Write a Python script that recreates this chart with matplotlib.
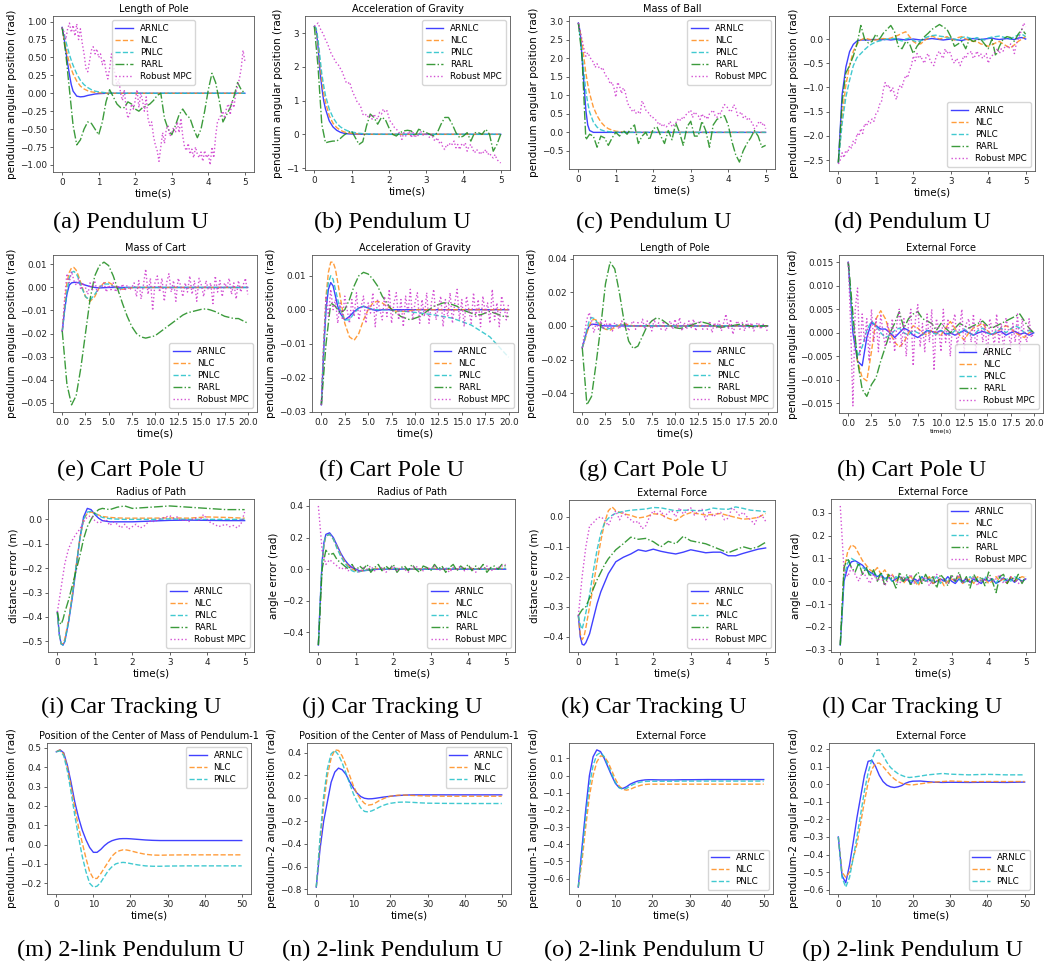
import numpy as np
import matplotlib
matplotlib.use('Agg')
import matplotlib.pyplot as plt
from matplotlib.ticker import MultipleLocator

# ======================= DATA =======================
# ---- (a) Pendulum: Length of Pole ----
a_ts = [0, 0.05, 0.1, 0.15, 0.2, 0.25, 0.3, 0.4, 0.5, 0.6, 0.7, 0.8, 0.9, 1.0, 1.2, 1.4, 1.6, 2.0, 3.0, 4.0, 5.0]
a_arnlc = [0.92, 0.78, 0.6, 0.42, 0.26, 0.12, 0.03, -0.04, -0.05, -0.045, -0.03, -0.02, -0.01, -0.005, 0, 0, 0, 0, 0, 0, 0]
a_nlc = [0.92, 0.78, 0.64, 0.52, 0.42, 0.34, 0.27, 0.17, 0.1, 0.06, 0.035, 0.02, 0.012, 0.007, 0.002, 0, 0, 0, 0, 0, 0]
a_pnlc = [0.92, 0.83, 0.73, 0.63, 0.54, 0.46, 0.39, 0.27, 0.18, 0.12, 0.08, 0.05, 0.03, 0.02, 0.007, 0.002, 0, 0, 0, 0, 0]
a_rarl = [0.92, 0.55, 0.05, -0.45, -0.72, -0.65, -0.5, -0.4, -0.42, -0.5,
          -0.58, -0.4, -0.12, 0.05, -0.05, -0.15, -0.2, -0.2, -0.12, -0.15,
          -0.22, -0.25, -0.2, -0.18, -0.15, -0.1, -0.03, 0.0, -0.35, -0.5,
          -0.58, -0.45, -0.3, -0.22, -0.3, -0.35, -0.5, -0.62, -0.5, -0.25,
          0.05, 0.28, 0.15, -0.1, -0.4, -0.3, -0.2, -0.05, 0.15, 0.05,
          0.0]
a_mpc = [0.92, 0.85, 0.75, 0.9, 0.98, 0.85, 0.95, 0.8, 0.97, 0.75,
         0.9, 0.7, 0.55, 0.35, 0.3, 0.45, 0.6, 0.65, 0.55, 0.62,
         0.5, 0.55, 0.4, 0.48, 0.3, 0.2, 0.35, 0.55, 0.4, 0.25,
         0.1, 0.2, 0.0, -0.1, 0.05, -0.2, -0.35, -0.28, -0.15, -0.22,
         -0.1, 0.05, -0.2, 0.0, -0.1, -0.25, -0.05, -0.35, -0.45, -0.4,
         -0.6, -0.72, -0.8, -0.95, -0.75, -0.55, -0.7, -0.5, -0.45, -0.6,
         -0.55, -0.48, -0.55, -0.4, -0.55, -0.35, -0.6, -0.75, -0.8, -0.7,
         -0.85, -0.78, -0.9, -0.75, -0.85, -0.9, -0.82, -0.95, -0.8, -0.9,
         -0.85, -1.0, -0.75, -0.9, -0.6, -0.4, -0.35, -0.3, -0.25, -0.35,
         -0.2, -0.15, -0.3, -0.1, -0.2, 0.0, 0.1, 0.2, 0.35, 0.6,
         0.45]

# ---- (b) Pendulum: Acceleration of Gravity ----
b_ts = a_ts
b_arnlc = [3.2, 3.1, 2.6, 1.9, 1.4, 1.0, 0.75, 0.4, 0.22, 0.12, 0.06, 0.03, 0.015, 0.01, 0.003, 0, 0, 0, 0, 0, 0]
b_nlc = [3.2, 3.1, 2.7, 2.1, 1.6, 1.22, 0.95, 0.55, 0.33, 0.2, 0.12, 0.07, 0.045, 0.03, 0.01, 0.004, 0, 0, 0, 0, 0]
b_pnlc = [3.2, 3.15, 2.8, 2.3, 1.8, 1.45, 1.15, 0.75, 0.5, 0.33, 0.22, 0.15, 0.1, 0.07, 0.03, 0.012, 0.005, 0, 0, 0, 0]
b_rarl = [3.2, 2.0, 0.3, -0.25, -0.22, -0.2, -0.2, -0.12, -0.02, 0.05,
          0.1, -0.1, -0.3, -0.22, 0.25, 0.6, 0.5, 0.3, 0.5, 0.45,
          0.2, 0.0, -0.05, 0.05, 0.1, 0.12, 0.1, -0.05, 0.15, 0.1,
          0.05, 0.0, -0.05, 0.05, 0.3, 0.5, 0.5, 0.3, 0.05, -0.1,
          -0.05, 0.05, -0.2, 0.05, 0.05, 0.0, 0.15, 0.0, -0.5, -0.3,
          0.0]
b_mpc = [3.2, 3.25, 3.3, 3.15, 3.05, 2.95, 2.8, 2.7, 2.55, 2.4,
         2.3, 2.2, 2.1, 2.05, 1.95, 1.85, 1.7, 1.55, 1.5, 1.55,
         1.35, 1.2, 1.1, 0.95, 0.9, 0.8, 0.6, 0.55, 0.6, 0.5,
         0.55, 0.45, 0.6, 0.5, 0.45, 0.65, 0.6, 0.75, 0.65, 0.7,
         0.5, 0.35, 0.3, 0.2, 0.15, 0.1, 0.0, -0.15, 0.05, -0.05,
         0.0, 0.1, -0.1, 0.05, -0.1, 0.0, -0.05, 0.1, 0.0, -0.05,
         0.05, -0.05, -0.1, 0.0, -0.15, -0.2, -0.1, -0.25, -0.2, -0.4,
         -0.45, -0.3, -0.35, -0.25, -0.3, -0.2, -0.4, -0.3, -0.45, -0.3,
         -0.35, -0.25, -0.5, -0.35, -0.3, -0.45, -0.55, -0.45, -0.5, -0.6,
         -0.5, -0.55, -0.45, -0.6, -0.55, -0.65, -0.7, -0.6, -0.75, -0.8,
         -0.85]

# ---- (c) Pendulum: Mass of Ball ----
c_ts = a_ts
c_arnlc = [2.95, 2.7, 2.0, 1.3, 0.6, 0.2, 0.05, 0.0, 0, 0, 0, 0, 0, 0, 0, 0, 0, 0, 0, 0, 0]
c_nlc = [2.95, 2.7, 2.4, 2.0, 1.6, 1.3, 1.05, 0.68, 0.45, 0.28, 0.17, 0.1, 0.06, 0.03, 0.01, 0.003, 0, 0, 0, 0, 0]
c_pnlc = [2.95, 2.55, 2.1, 1.6, 1.1, 0.8, 0.55, 0.28, 0.14, 0.07, 0.035, 0.02, 0.01, 0.005, 0, 0, 0, 0, 0, 0, 0]
c_rarl = [2.95, 2.0, -0.2, -0.05, -0.1, -0.4, -0.1, -0.15, -0.35, -0.15,
          0.0, -0.1, 0.05, -0.05, 0.1, 0.2, -0.3, -0.1, 0.0, -0.2,
          0.1, 0.15, -0.1, -0.3, 0.05, -0.2, 0.25, 0.0, -0.35, 0.15,
          0.3, -0.1, -0.1, 0.3, 0.05, -0.4, 0.2, 0.35, 0.4, 0.45,
          0.2, -0.25, -0.6, -0.8, -0.5, -0.3, -0.15, 0.05, -0.1, -0.4,
          -0.35]
c_mpc = [2.95, 2.7, 2.5, 2.25, 2.05, 2.15, 2.05, 1.95, 1.9, 1.75,
         1.85, 1.75, 1.7, 1.75, 1.6, 1.5, 1.45, 1.3, 1.35, 1.2,
         0.95, 1.35, 1.25, 1.05, 1.2, 1.1, 0.85, 0.7, 0.65, 0.55,
         0.6, 0.5, 0.55, 0.5, 0.85, 0.75, 0.6, 0.55, 0.5, 0.4,
         0.4, 0.35, 0.3, 0.2, 0.25, 0.15, 0.2, 0.15, 0.2, 0.3,
         0.15, 0.2, 0.25, 0.35, 0.3, 0.4, 0.35, 0.45, 0.5, 0.55,
         0.6, 0.4, 0.55, 0.5, 0.45, 0.35, 0.5, 0.4, 0.45, 0.35,
         0.5, 0.55, 0.6, 0.45, 0.4, 0.55, 0.5, 0.65, 0.75, 0.7,
         0.65, 0.55, 0.6, 0.75, 0.65, 0.45, 0.5, 0.55, 0.4, 0.45,
         0.35, 0.4, 0.3, 0.25, 0.1, 0.15, 0.25, 0.3, 0.2, 0.25,
         0.1]

# ---- (d) Pendulum: External Force (0.1 s grid) ----
d_arnlc = [-2.55, -1.15, -0.58, -0.26, -0.11, -0.04, -0.02, -0.02, -0.02, -0.01,
           -0.01, -0.02, -0.01, -0.01, -0.02, -0.01, 0.0, -0.01, -0.02, -0.01,
           0.0, -0.01, -0.02, -0.01, 0.0, 0.01, 0.0, -0.01, -0.02, -0.01,
           0.0, -0.01, -0.02, -0.03, -0.01, 0.0, 0.01, 0.0, -0.01, 0.0,
           0.01, 0.02, 0.0, -0.01, 0.0, 0.01, 0.0, -0.01, 0.02, 0.03,
           0.0]
d_nlc = [-2.55, -1.6, -0.95, -0.55, -0.25, -0.1, -0.02, 0.02, 0.0, -0.02,
         -0.02, 0.0, 0.01, 0.0, 0.02, 0.05, 0.08, 0.12, 0.15, 0.05,
         -0.05, -0.1, -0.1, -0.03, 0.02, 0.06, 0.03, 0.0, 0.02, 0.05,
         0.0, -0.02, 0.03, 0.05, 0.0, -0.03, -0.05, -0.05, -0.1, -0.12,
         -0.15, -0.12, -0.08, -0.05, -0.1, -0.15, -0.18, -0.12, -0.05, 0.0,
         0.05]
d_pnlc = [-2.55, -1.75, -1.2, -0.85, -0.55, -0.38, -0.3, -0.22, -0.15, -0.1,
          -0.06, -0.04, -0.02, 0.0, 0.0, 0.01, -0.02, -0.04, 0.0, 0.02,
          -0.03, -0.06, -0.04, 0.02, 0.05, 0.07, 0.08, 0.06, 0.05, 0.02,
          0.02, 0.0, -0.02, 0.03, 0.05, 0.02, 0.0, 0.03, 0.0, -0.02,
          0.02, 0.04, 0.05, 0.06, 0.04, 0.02, 0.0, 0.05, 0.08, 0.1,
          0.05]
d_rarl = [-2.55, -1.3, -0.7, -0.55, -0.35, -0.1, 0.28, 0.0, -0.08, -0.05,
          0.1, 0.0, 0.12, 0.2, 0.28, 0.15, -0.15, -0.2, -0.05, -0.1,
          -0.3, -0.15, -0.05, 0.05, 0.12, 0.2, 0.25, 0.3, 0.25, 0.2,
          0.05, -0.15, -0.1, -0.05, -0.2, 0.0, -0.05, -0.02, 0.0, -0.1,
          -0.2, 0.0, -0.35, -0.15, 0.0, 0.05, 0.03, -0.05, 0.1, 0.2,
          0.1]
d_mpc = [-2.58, -2.5, -2.35, -2.45, -2.3, -2.35, -2.2, -2.25, -2.1, -2.15,
         -1.95, -2.0, -1.85, -1.95, -1.75, -1.8, -1.7, -1.75, -1.65, -1.7,
         -1.55, -1.5, -1.35, -1.3, -1.05, -0.9, -1.0, -0.95, -1.1, -1.0,
         -1.15, -1.25, -1.05, -0.95, -1.0, -0.85, -0.75, -0.8, -0.65, -0.55,
         -0.35, -0.45, -0.3, -0.4, -0.35, -0.45, -0.5, -0.35, -0.3, -0.45,
         -0.5, -0.55, -0.4, -0.3, -0.25, -0.35, -0.4, -0.2, -0.3, -0.25,
         -0.3, -0.45, -0.5, -0.4, -0.45, -0.55, -0.45, -0.35, -0.4, -0.3,
         -0.3, -0.25, -0.4, -0.35, -0.25, -0.35, -0.3, -0.4, -0.35, -0.3,
         -0.5, -0.4, -0.35, -0.3, -0.25, -0.2, -0.3, -0.2, -0.25, -0.15,
         -0.15, -0.2, -0.1, -0.15, -0.3, -0.1, 0.0, 0.1, 0.2, 0.33,
         0.25]

# ---- (e) Cart Pole: Mass of Cart ----
e_ts = [0, 0.25, 0.5, 0.75, 1.0, 1.25, 1.5, 1.75, 2.0, 2.5, 3.0, 3.5, 4.0, 4.5, 5.0, 5.5, 6.0, 6.5, 7.0, 8.0, 9.0, 10.0, 12.0, 14.0, 16.0, 18.0, 20.0]
e_arnlc = [-0.019, -0.01, -0.003, 0.001, 0.002, 0.0022, 0.0022, 0.002, 0.0018, 0.001,
           0.0004, 0.0, -0.0002, -0.0001, 0.0, 0.0, 0.0, 0, 0, 0, 0, 0, 0, 0, 0, 0, 0]
e_nlc = [-0.019, -0.008, 0.002, 0.0065, 0.0085, 0.0087, 0.0075, 0.005, 0.002, -0.004,
         -0.006, -0.004, 0.0, 0.002, 0.0022, 0.001, -0.0005, -0.0008, -0.0003, 0.0, 0, 0, 0, 0, 0, 0, 0]
e_pnlc = [-0.019, -0.01, -0.002, 0.004, 0.0065, 0.007, 0.006, 0.004, 0.001, -0.004,
          -0.0055, -0.003, 0.0, 0.0015, 0.0015, 0.0005, -0.0005, -0.0003, 0.0, 0, 0, 0, 0, 0, 0, 0, 0]
e_rarl = [-0.019, -0.042, -0.051, -0.047, -0.035, -0.02, -0.005, 0.005, 0.0095, 0.011,
          0.0095, 0.005, -0.001, -0.007, -0.0125, -0.017, -0.02, -0.0215, -0.022, -0.0215,
          -0.021, -0.0195, -0.018, -0.0165, -0.015, -0.0135, -0.012, -0.011, -0.0105, -0.01,
          -0.0095, -0.0093, -0.0098, -0.0105, -0.0115, -0.0125, -0.013, -0.0135, -0.0135, -0.0145,
          -0.0155]
e_mpc = [-0.019, -0.005, 0.006, 0.002, 0.007, 0.003, 0.001, 0.004, -0.001,
         0.002, 0.0, -0.003, 0.002, -0.001, 0.003, -0.002, 0.001, 0.0,
         0.002, -0.002, 0.001, -0.001, 0.002, -0.002, 0.001, -0.001, 0.0015,
         -0.0015, 0.001, -0.001, 0.0, 0.002, -0.004, 0.003, -0.005, 0.001,
         0.008, -0.003, 0.004, -0.01, 0.002, 0.005, -0.002, 0.004, -0.006,
         0.002, 0.006, -0.002, 0.003, -0.006, 0.004, 0.001, -0.004, 0.002,
         -0.002, 0.005, -0.003, 0.003, -0.006, 0.004, 0.001, -0.004, 0.003,
         -0.001, 0.002, -0.007, 0.005, -0.002, 0.003, -0.004, 0.002, 0.0,
         0.004, -0.003, 0.002, -0.005, 0.003, -0.002, 0.001, 0.004, -0.003]

# ---- (f) Cart Pole: Acceleration of Gravity ----
f_ts = e_ts
f_arnlc = [-0.028, -0.012, 0.0, 0.006, 0.008, 0.007, 0.004, 0.001, -0.001, -0.003,
           -0.002, -0.0005, 0.0005, 0.001, 0.0005, 0.0, -0.0003, 0, 0, 0, 0, 0, 0, 0, 0, 0, 0]
f_nlc = [-0.028, -0.01, 0.004, 0.011, 0.014, 0.014, 0.012, 0.008, 0.004, -0.004,
         -0.008, -0.009, -0.007, -0.003, 0.0, 0.002, 0.0025, 0.002, 0.001, -0.0005,
         -0.0005, 0.0, 0, 0, 0, 0, 0]
f_pnlc = [-0.028, -0.011, 0.002, 0.008, 0.01, 0.009, 0.006, 0.003, 0.0, -0.003,
          -0.003, -0.001, 0.0005, 0.001, 0.0005, 0.0, 0.0, 0.0, 0.0, -0.0003,
          -0.0005, -0.0008, -0.0015, -0.0025, -0.0045, -0.008, -0.014]
f_rarl = [-0.028, -0.01, 0.002, 0.001, -0.001, 0.0, 0.003, 0.007, 0.01, 0.011,
          0.0105, 0.009, 0.007, 0.004, 0.002, 0.0, -0.001, -0.002, -0.0025, -0.003,
          -0.0025, -0.002, -0.001, 0.0, 0.001, 0.0015, 0.002, 0.002, 0.0015, 0.001,
          0.0, -0.0005, -0.001, -0.0015, -0.0015, -0.001, -0.0005, -0.001, -0.0015, -0.002,
          -0.002]
f_mpc = [-0.028, -0.01, 0.004, -0.002, 0.006, 0.0, 0.003, -0.004, 0.002,
         -0.003, 0.004, 0.0, -0.004, 0.003, -0.002, 0.005, -0.003, 0.001,
         0.004, -0.004, 0.002, -0.001, 0.005, -0.005, 0.003, 0.0, -0.003,
         0.004, -0.002, 0.006, -0.004, 0.002, 0.005, -0.003, 0.003, -0.005,
         0.004, -0.001, 0.006, -0.003, 0.002, 0.005, -0.004, 0.003, -0.002,
         0.005, -0.004, 0.002, 0.006, -0.003, 0.001, 0.004, -0.005, 0.003,
         -0.002, 0.005, -0.004, 0.002, 0.006, -0.003, 0.003, -0.005, 0.004,
         0.0, -0.004, 0.005, -0.002, 0.003, -0.005, 0.004, -0.001, 0.002,
         -0.004, 0.006, -0.003, 0.002, -0.005, 0.004, 0.001, -0.003, 0.002]

# ---- (g) Cart Pole: Length of Pole ----
g_ts = e_ts
g_arnlc = [-0.013, -0.008, -0.003, 0.0, 0.001, 0.001, 0.0008, 0.0005, 0.0003, 0.0,
           0, 0, 0, 0, 0, 0, 0, 0, 0, 0, 0, 0, 0, 0, 0, 0, 0]
g_nlc = [-0.013, -0.009, -0.004, 0.0, 0.003, 0.004, 0.0035, 0.002, 0.0, -0.002,
         -0.0025, -0.001, 0.0005, 0.001, 0.0008, 0.0, -0.0003, 0.0, 0, 0, 0, 0, 0, 0, 0, 0, 0]
g_pnlc = [-0.013, -0.008, -0.002, 0.003, 0.005, 0.0045, 0.003, 0.001, -0.0005, -0.002,
          -0.0015, 0.0, 0.0008, 0.0005, 0.0, 0, 0, 0, 0, 0, 0, 0, 0, 0, 0, 0, 0]
g_rarl = [-0.013, -0.047, -0.042, -0.022, 0.0, 0.025, 0.038, 0.034, 0.02, 0.003,
          -0.009, -0.0135, -0.012, -0.006, 0.0, 0.003, 0.0048, 0.004, 0.002, 0.0,
          -0.001, -0.0015, -0.001, 0.0, 0.001, 0.002, 0.0022, 0.0015, 0.0005, -0.0005,
          -0.0008, -0.0005, 0.0, 0.0005, 0.001, 0.0008, 0.0, -0.0005, -0.0003, 0.0,
          0.0]
g_mpc = [-0.013, -0.004, 0.004, 0.008, 0.003, -0.004, 0.002, -0.002, 0.003,
         -0.002, 0.003, -0.001, 0.002, -0.003, 0.002, 0.0, -0.002, 0.003,
         -0.001, 0.002, -0.003, 0.001, 0.003, -0.002, 0.002, -0.001, 0.004,
         -0.002, 0.003, 0.001, -0.003, 0.004, -0.001, 0.002, -0.002, 0.003,
         -0.003, 0.001, 0.003, -0.002, 0.004, -0.001, 0.005, -0.003, 0.002,
         -0.002, 0.003, -0.001, 0.004, -0.003, 0.002, 0.003, -0.002, 0.001,
         -0.002, 0.003, -0.004, 0.002, -0.001, 0.003, -0.003, 0.002, 0.007,
         -0.002, 0.004, -0.005, 0.001, 0.003, -0.002, 0.002, -0.003, 0.003,
         -0.001, 0.002, -0.003, 0.001, 0.002, -0.002, 0.001, 0.0, -0.004]

# ---- (h) Cart Pole: External Force (0.5 s grid, MPC 0.25 s) ----
h_arnlc = [0.015, 0.0, -0.006, -0.007, -0.001, 0.0022, 0.0015, 0.0008, 0.0008, 0.0,
           -0.001, 0.0, 0.001, 0.0005, -0.0005, -0.001, -0.0003, 0.0005, 0.0003, 0.0,
           0.0005, -0.0003, 0.0, -0.0005, 0.0, 0.0005, 0.0, -0.0005, 0.0, 0.0003,
           0.0, -0.0003, 0.0, 0.0003, -0.0005, 0.0, 0.0003, -0.0003, 0.0, -0.0005,
           0.0]
h_nlc = [0.015, 0.002, -0.006, -0.0095, -0.0102, -0.004, 0.003, 0.0047, 0.003, 0.0,
         -0.002, -0.003, -0.002, 0.0, 0.0015, 0.001, 0.0, -0.0005, 0.0005, 0.0,
         -0.0005, 0.001, 0.0024, 0.001, -0.0005, -0.0015, 0.0, 0.001, 0.0015, 0.002,
         0.0005, -0.0005, 0.0, 0.001, 0.0015, 0.001, 0.0, -0.0005, -0.001, 0.0,
         0.0005]
h_pnlc = [0.015, 0.002, -0.005, -0.003, 0.0005, 0.0025, 0.0015, 0.0, -0.001, -0.0005,
          0.0005, 0.001, 0.0, -0.0005, 0.0005, 0.0, -0.0005, 0.0005, 0.0, -0.0003,
          0.0005, 0.0, -0.0005, 0.0005, 0.0, 0.0008, 0.0, -0.0005, 0.0005, 0.001,
          0.0, -0.0005, 0.0005, 0.001, 0.0, 0.0008, 0.0015, 0.001, 0.0, 0.0005,
          0.0]
h_rarl = [0.015, 0.004, -0.006, -0.012, -0.0135, -0.011, -0.0095, -0.006, -0.003, 0.0,
          0.002, 0.0045, 0.001, 0.003, 0.004, 0.0045, 0.003, 0.0025, 0.002, 0.0005,
          0.002, 0.001, 0.0, 0.001, 0.002, 0.0015, 0.001, 0.0015, 0.002, 0.0025,
          0.0015, 0.001, 0.0015, 0.002, 0.0025, 0.003, 0.0035, 0.004, 0.0025, 0.001,
          0.0]
h_mpc = [0.015, 0.002, -0.0155, 0.005, 0.0095, -0.005, 0.004, -0.002, 0.003,
         -0.006, 0.005, -0.002, 0.003, -0.004, 0.004, 0.0, -0.003, 0.002,
         -0.002, 0.003, -0.004, 0.002, 0.005, -0.003, 0.003, -0.005, 0.002,
         0.005, -0.007, 0.003, 0.006, -0.003, 0.002, -0.004, 0.004, -0.002,
         0.005, -0.008, 0.003, 0.001, -0.004, 0.005, -0.002, 0.003, -0.005,
         0.002, 0.004, -0.003, 0.001, 0.005, -0.004, 0.002, 0.003, -0.002,
         0.004, -0.004, 0.001, 0.003, -0.002, 0.002, -0.005, 0.003, 0.001,
         -0.003, 0.004, -0.002, 0.002, -0.004, 0.003, 0.001, -0.003, 0.002,
         -0.002, 0.004, -0.004, 0.003, 0.0, -0.002, 0.003, -0.001, 0.0]

# ---- (i) Car Tracking: Radius of Path, distance error ----
i_ts = [0, 0.05, 0.1, 0.15, 0.2, 0.3, 0.4, 0.5, 0.6, 0.7, 0.8, 0.9, 1.0, 1.1, 1.2, 1.4, 1.6, 1.8, 2.0, 2.5, 3.0, 3.5, 4.0, 4.5, 5.0]
i_arnlc = [-0.38, -0.47, -0.51, -0.515, -0.5, -0.42, -0.32, -0.2, -0.08, 0.01,
           0.045, 0.04, 0.02, 0.005, -0.005, -0.01, -0.01, -0.01, -0.01, -0.007,
           -0.004, -0.003, -0.004, -0.005, -0.005]
i_nlc = [-0.38, -0.47, -0.51, -0.51, -0.49, -0.41, -0.31, -0.19, -0.08, 0.0,
         0.025, 0.03, 0.025, 0.018, 0.012, 0.008, 0.006, 0.005, 0.005, 0.005,
         0.006, 0.005, 0.01, 0.008, 0.005]
i_pnlc = [-0.38, -0.47, -0.51, -0.515, -0.5, -0.42, -0.31, -0.19, -0.08, 0.0,
          0.03, 0.033, 0.025, 0.015, 0.008, 0.003, 0.001, 0.0, 0.0, 0.0,
          0.002, 0.0, 0.0, 0.0, 0.0]
i_rarl = [-0.38, -0.42, -0.43, -0.41, -0.38, -0.33, -0.27, -0.21, -0.15, -0.08,
          -0.03, 0.0, 0.025, 0.04, 0.045, 0.04, 0.05, 0.055, 0.045, 0.05,
          0.055, 0.05, 0.045, 0.04, 0.04]
i_mpc = [-0.38, -0.28, -0.18, -0.12, -0.085, -0.06, -0.04, -0.01, 0.01, 0.015,
         -0.005, -0.015, -0.01, 0.0, -0.025, -0.01, -0.02, -0.035, -0.02, -0.04,
         -0.03, -0.02, -0.035, -0.03, -0.015, -0.005, -0.01, 0.0, 0.005, 0.01,
         0.015, 0.005, 0.01, -0.005, 0.0, -0.01, 0.0, 0.005, -0.005, 0.02,
         0.0, -0.015, -0.02, -0.03, -0.025, -0.02, -0.03, -0.025, -0.035, -0.02,
         0.03]

# ---- (j) Car Tracking: Radius of Path, angle error ----
j_ts = i_ts
j_arnlc = [-0.48, -0.2, 0.05, 0.17, 0.22, 0.23, 0.2, 0.15, 0.1, 0.06,
           0.03, 0.01, 0.0, -0.01, -0.01, -0.005, 0.0, 0.0, 0.0, 0.0,
           0.0, 0.0, 0.0, 0.0, 0.0]
j_nlc = [-0.48, -0.22, 0.03, 0.15, 0.21, 0.22, 0.19, 0.14, 0.09, 0.05,
         0.02, 0.0, -0.01, -0.015, -0.01, 0.0, 0.005, 0.0, 0.005, 0.0,
         0.005, 0.0, 0.005, 0.0, 0.005]
j_pnlc = [-0.48, -0.2, 0.04, 0.16, 0.21, 0.22, 0.19, 0.13, 0.08, 0.04,
          0.01, -0.01, -0.02, -0.015, -0.01, 0.0, 0.0, 0.0, 0.005, 0.0,
          0.0, 0.005, 0.0, 0.0, 0.005]
j_rarl = [-0.48, 0.0, 0.12, 0.09, 0.1, 0.06, 0.04, 0.02, 0.0, 0.03,
          -0.01, 0.02, 0.0, 0.03, -0.02, 0.01, 0.03, -0.01, 0.02, 0.0,
          0.03, -0.02, 0.01, 0.02, -0.01, 0.03, 0.0, -0.02, 0.02, 0.01,
          -0.01, 0.03, 0.0, 0.02, -0.02, 0.01, 0.03, -0.01, 0.02, 0.0,
          0.03, -0.01, 0.02, 0.0, 0.03, -0.02, 0.01, 0.02, 0.0, 0.03,
          0.02]
j_mpc = [0.4, 0.12, 0.03, 0.06, 0.04, 0.02, 0.0, 0.01, -0.01, 0.02,
         0.0, -0.02, 0.01, 0.0, 0.02, -0.01, 0.0, 0.01, -0.02, 0.0,
         0.02, -0.01, 0.01, 0.0, -0.02, 0.01, 0.02, 0.0, -0.01, 0.01,
         0.0, 0.02, -0.01, 0.0, 0.01, -0.02, 0.01, 0.0, 0.02, -0.01,
         0.0, 0.01, -0.02, 0.01, 0.0, 0.02, -0.01, 0.0, 0.01, 0.02,
         0.03]

# ---- (k) Car Tracking: External Force, distance error ----
k_ts = [0, 0.05, 0.1, 0.15, 0.2, 0.3, 0.4, 0.5, 0.6, 0.7, 0.8, 0.9, 1.0, 1.2, 1.4, 1.6, 1.8, 2.0, 2.2, 2.4, 2.6, 2.8, 3.0, 3.2, 3.4, 3.6, 3.8, 4.0, 4.2, 4.4, 4.6, 4.8, 5.0]
k_arnlc = [-0.33, -0.4, -0.425, -0.428, -0.42, -0.39, -0.34, -0.29, -0.25, -0.22,
           -0.19, -0.17, -0.15, -0.135, -0.124, -0.11, -0.115, -0.108, -0.115, -0.12,
           -0.124, -0.118, -0.11, -0.115, -0.12, -0.118, -0.118, -0.13, -0.13, -0.122,
           -0.115, -0.108, -0.104]
k_nlc = [-0.33, -0.39, -0.41, -0.4, -0.37, -0.3, -0.23, -0.15, -0.08, -0.02,
         0.02, 0.033, 0.02, 0.01, 0.005, -0.004, 0.0, 0.01, 0.008, -0.005,
         -0.013, 0.005, 0.014, 0.01, 0.006, 0.008, 0.011, 0.004, -0.002, -0.008,
         -0.006, -0.002, 0.011]
k_pnlc = [-0.33, -0.36, -0.375, -0.35, -0.32, -0.26, -0.18, -0.11, -0.055, -0.02,
          -0.005, 0.005, 0.012, 0.018, 0.022, 0.024, 0.026, 0.031, 0.03, 0.025,
          0.02, 0.022, 0.022, 0.02, 0.022, 0.029, 0.026, 0.025, 0.033, 0.028,
          0.022, 0.02, 0.017]
k_rarl = [-0.33, -0.32, -0.31, -0.305, -0.3, -0.27, -0.24, -0.21, -0.185, -0.16,
          -0.14, -0.125, -0.11, -0.09, -0.068, -0.075, -0.072, -0.083, -0.1, -0.082,
          -0.09, -0.065, -0.08, -0.085, -0.09, -0.1, -0.11, -0.12, -0.11, -0.1,
          -0.107, -0.1, -0.085]
k_mpc = [-0.33, -0.2, -0.1, -0.03, -0.02, -0.005, 0.0, -0.01, -0.03, 0.0,
         0.02, -0.01, 0.015, 0.0, -0.01, -0.02, -0.015, -0.04, -0.03, 0.0,
         0.02, 0.01, 0.02, 0.0, 0.015, 0.02, 0.0, 0.03, 0.01, 0.02,
         0.03, 0.005, 0.02, 0.025, -0.01, 0.02, 0.0, 0.01, 0.015, -0.01,
         -0.005, 0.03, 0.02, 0.005, 0.015, 0.0, -0.01, -0.025, 0.0, 0.005,
         -0.015]

# ---- (l) Car Tracking: External Force, angle error (0.1 s grid) ----
l_arnlc = [-0.28, 0.0, 0.06, 0.085, 0.09, 0.08, 0.07, 0.05, 0.04, 0.03,
           0.02, 0.03, 0.01, 0.02, 0.0, 0.01, 0.02, 0.0, 0.01, -0.01,
           0.01, 0.0, 0.02, 0.0, 0.01, -0.01, 0.0, 0.01, 0.0, 0.02,
           0.0, -0.01, 0.01, 0.0, 0.01, -0.005, 0.01, 0.0, -0.01, 0.01,
           0.0, 0.01, -0.01, 0.0, 0.015, 0.0, 0.01, -0.005, 0.01, 0.0,
           0.01]
l_nlc = [-0.28, 0.05, 0.13, 0.16, 0.15, 0.12, 0.09, 0.07, 0.05, 0.04,
         0.06, 0.03, 0.05, 0.02, 0.03, 0.0, 0.02, -0.01, 0.01, 0.02,
         0.0, -0.02, 0.01, 0.0, 0.02, -0.01, 0.0, 0.01, -0.02, 0.0,
         0.01, 0.0, 0.02, -0.01, 0.0, 0.01, -0.01, 0.02, 0.0, 0.01,
         -0.01, 0.0, 0.02, 0.0, 0.01, -0.01, 0.02, 0.0, 0.01, 0.02,
         0.015]
l_pnlc = [-0.28, 0.02, 0.08, 0.1, 0.09, 0.07, 0.06, 0.05, 0.03, 0.04,
          0.02, 0.03, 0.01, 0.02, 0.0, 0.02, 0.01, 0.0, 0.02, 0.0,
          0.01, -0.01, 0.02, 0.0, 0.01, 0.0, 0.02, -0.01, 0.01, 0.0,
          0.02, 0.0, 0.01, -0.01, 0.0, 0.02, 0.0, 0.01, 0.0, 0.02,
          0.0, 0.01, -0.01, 0.02, 0.0, 0.01, 0.0, 0.02, 0.01, 0.0,
          0.01]
l_rarl = [-0.28, 0.06, 0.1, 0.06, 0.04, 0.08, 0.03, 0.06, 0.02, 0.05,
          0.0, 0.04, -0.02, 0.03, 0.01, -0.03, 0.04, 0.0, 0.03, -0.02,
          0.02, 0.04, -0.01, 0.03, 0.0, 0.02, -0.03, 0.03, 0.01, -0.02,
          0.03, 0.0, 0.04, -0.01, 0.02, -0.03, 0.03, 0.0, 0.02, -0.02,
          0.04, 0.0, -0.05, 0.02, 0.03, -0.01, 0.02, 0.0, 0.03, -0.01,
          0.02]
l_mpc = [0.33, 0.05, 0.02, 0.06, 0.03, 0.0, 0.04, 0.02, -0.01, 0.03,
         0.0, 0.02, -0.02, 0.01, 0.03, 0.0, -0.01, 0.02, 0.0, 0.03,
         -0.01, 0.01, 0.0, 0.02, -0.02, 0.01, 0.03, 0.0, 0.01, -0.01,
         0.02, 0.0, 0.03, -0.01, 0.01, 0.0, 0.02, -0.02, 0.01, 0.0,
         0.02, 0.0, 0.01, 0.03, -0.01, 0.0, 0.02, 0.01, -0.01, 0.0,
         0.01]

# ---- (m)-(p) 2-link Pendulum ----
mp_ts = [0, 1, 2, 3, 4, 5, 6, 7, 8, 9, 10, 11, 12, 13, 14, 15, 16, 17, 18, 19, 20, 22, 24, 26, 28, 30, 35, 40, 45, 50]
m_arnlc = [0.48, 0.49, 0.475, 0.41, 0.32, 0.22, 0.14, 0.075, 0.025, -0.015,
           -0.04, -0.04, -0.025, -0.005, 0.01, 0.02, 0.026, 0.03, 0.031, 0.031,
           0.03, 0.027, 0.024, 0.022, 0.021, 0.021, 0.021, 0.021, 0.021, 0.021]
m_nlc = [0.48, 0.49, 0.47, 0.4, 0.3, 0.19, 0.09, 0.01, -0.07, -0.14,
         -0.175, -0.175, -0.15, -0.12, -0.09, -0.06, -0.042, -0.032, -0.027, -0.028,
         -0.032, -0.042, -0.05, -0.054, -0.055, -0.054, -0.053, -0.053, -0.053, -0.053]
m_pnlc = [0.48, 0.485, 0.46, 0.38, 0.27, 0.15, 0.04, -0.06, -0.14, -0.2,
          -0.22, -0.215, -0.195, -0.165, -0.135, -0.115, -0.1, -0.094, -0.092, -0.094,
          -0.098, -0.105, -0.11, -0.112, -0.112, -0.111, -0.11, -0.11, -0.11, -0.11]
n_arnlc = [-0.78, -0.45, -0.2, -0.03, 0.14, 0.23, 0.265, 0.25, 0.21, 0.145,
           0.09, 0.045, 0.015, 0.0, -0.005, -0.004, 0.0, 0.005, 0.01, 0.014,
           0.018, 0.024, 0.028, 0.03, 0.03, 0.03, 0.03, 0.03, 0.03, 0.03]
n_nlc = [-0.78, -0.4, -0.05, 0.2, 0.35, 0.425, 0.42, 0.37, 0.29, 0.2,
         0.11, 0.04, -0.01, -0.045, -0.06, -0.055, -0.04, -0.02, -0.005, 0.008,
         0.018, 0.027, 0.028, 0.025, 0.022, 0.02, 0.018, 0.018, 0.018, 0.018]
n_pnlc = [-0.78, -0.35, 0.02, 0.26, 0.39, 0.42, 0.38, 0.31, 0.22, 0.13,
          0.04, -0.03, -0.085, -0.115, -0.12, -0.11, -0.095, -0.078, -0.063, -0.052,
          -0.044, -0.035, -0.033, -0.036, -0.04, -0.043, -0.045, -0.046, -0.046, -0.046]
o_arnlc = [-0.65, -0.42, -0.2, 0.0, 0.11, 0.15, 0.14, 0.1, 0.05, 0.0,
           -0.045, -0.07, -0.075, -0.065, -0.05, -0.04, -0.032, -0.028, -0.025, -0.024,
           -0.024, -0.025, -0.025, -0.025, -0.024, -0.024, -0.023, -0.023, -0.023, -0.023]
o_nlc = [-0.65, -0.5, -0.3, -0.12, 0.0, 0.08, 0.115, 0.11, 0.08, 0.03,
         -0.02, -0.06, -0.08, -0.085, -0.08, -0.07, -0.062, -0.056, -0.052, -0.05,
         -0.05, -0.05, -0.05, -0.05, -0.05, -0.05, -0.05, -0.05, -0.05, -0.05]
o_pnlc = [-0.65, -0.45, -0.24, -0.06, 0.06, 0.12, 0.135, 0.11, 0.06, 0.01,
          -0.04, -0.07, -0.08, -0.075, -0.06, -0.05, -0.042, -0.037, -0.034, -0.033,
          -0.033, -0.033, -0.033, -0.033, -0.032, -0.032, -0.032, -0.032, -0.032, -0.032]
p_arnlc = [-0.3, -0.52, -0.56, -0.46, -0.33, -0.19, -0.07, 0.05, 0.13, 0.135,
           0.1, 0.05, 0.015, -0.005, -0.015, -0.019, -0.015, -0.008, 0.005, 0.013,
           0.017, 0.018, 0.014, 0.011, 0.01, 0.011, 0.01, 0.011, 0.01, 0.012]
p_nlc = [-0.3, -0.5, -0.53, -0.5, -0.42, -0.34, -0.22, -0.1, 0.01, 0.085,
         0.118, 0.12, 0.1, 0.075, 0.05, 0.03, 0.015, 0.005, 0.0, -0.003,
         -0.004, 0.002, 0.008, 0.012, 0.015, 0.018, 0.014, 0.015, 0.015, 0.015]
p_pnlc = [-0.3, -0.53, -0.585, -0.53, -0.42, -0.3, -0.17, -0.04, 0.065, 0.14,
          0.19, 0.195, 0.165, 0.125, 0.095, 0.076, 0.06, 0.05, 0.042, 0.038,
          0.04, 0.046, 0.053, 0.057, 0.061, 0.057, 0.053, 0.056, 0.053, 0.053]

captions = ['(a) Pendulum U', '(b) Pendulum U', '(c) Pendulum U', '(d) Pendulum U',
            '(e) Cart Pole U', '(f) Cart Pole U', '(g) Cart Pole U', '(h) Cart Pole U',
            '(i) Car Tracking U', '(j) Car Tracking U', '(k) Car Tracking U', '(l) Car Tracking U',
            '(m) 2-link Pendulum U', '(n) 2-link Pendulum U', '(o) 2-link Pendulum U', '(p) 2-link Pendulum U']

# ======================= STYLE =======================
STY = {
    'ARNLC': dict(color='#1f1fff', ls='-'),
    'NLC': dict(color='#ff8c1a', ls='--'),
    'PNLC': dict(color='#20c0c8', ls='--'),
    'RARL': dict(color='#1a8a1a', ls='-.'),
    'Robust MPC': dict(color='#cc33cc', ls=':'),
}
W, H = 1050, 966
fig = plt.figure(figsize=(W / 100, H / 100), dpi=100)


def grid(t0, t1, vals):
    return np.linspace(t0, t1, len(vals))


def panel(box, title, ylabel, series, loc, xstep, ystep, xlabel_size=7.5):
    l, t, r, b = box
    ax = fig.add_axes([l / W, 1 - b / H, (r - l) / W, (b - t) / H])
    for name, x, y in series:
        ax.plot(x, y, lw=1.0, alpha=0.85, label=name, **STY[name])
    ax.xaxis.set_major_locator(MultipleLocator(xstep))
    ax.yaxis.set_major_locator(MultipleLocator(ystep))
    ax.set_title(title, fontsize=7, pad=3)
    ax.set_xlabel('time(s)', fontsize=xlabel_size, labelpad=1)
    ax.set_ylabel(ylabel, fontsize=7.5, labelpad=2)
    ax.tick_params(labelsize=6.4, length=2.2, width=0.5, pad=2, colors='#222')
    for s in ax.spines.values():
        s.set_linewidth(0.6)
        s.set_color('#555')
    ax.legend(loc=loc, fontsize=6.3, handlelength=2.0, borderpad=0.4,
              labelspacing=0.35, handletextpad=0.8)
    return ax


ylab_p = 'pendulum angular position (rad)'

panel((53, 16, 254, 172), 'Length of Pole', ylab_p,
      [('ARNLC', a_ts, a_arnlc), ('NLC', a_ts, a_nlc), ('PNLC', a_ts, a_pnlc),
       ('RARL', grid(0, 5, a_rarl), a_rarl), ('Robust MPC', grid(0, 5, a_mpc), a_mpc)],
      'upper center', 1, 0.25)
panel((305, 16, 510, 170), 'Acceleration of Gravity', ylab_p,
      [('ARNLC', b_ts, b_arnlc), ('NLC', b_ts, b_nlc), ('PNLC', b_ts, b_pnlc),
       ('RARL', grid(0, 5, b_rarl), b_rarl), ('Robust MPC', grid(0, 5, b_mpc), b_mpc)],
      'upper right', 1, 1)
panel((569, 16, 775, 169), 'Mass of Ball', ylab_p,
      [('ARNLC', c_ts, c_arnlc), ('NLC', c_ts, c_nlc), ('PNLC', c_ts, c_pnlc),
       ('RARL', grid(0, 5, c_rarl), c_rarl), ('Robust MPC', grid(0, 5, c_mpc), c_mpc)],
      'upper right', 1, 0.5)
panel((829, 16, 1035, 171), 'External Force', ylab_p,
      [('ARNLC', grid(0, 5, d_arnlc), d_arnlc), ('NLC', grid(0, 5, d_nlc), d_nlc),
       ('PNLC', grid(0, 5, d_pnlc), d_pnlc), ('RARL', grid(0, 5, d_rarl), d_rarl),
       ('Robust MPC', grid(0, 5, d_mpc), d_mpc)], 'lower right', 1, 0.5)

panel((53, 255, 257, 412), 'Mass of Cart', ylab_p,
      [('ARNLC', e_ts, e_arnlc), ('NLC', e_ts, e_nlc), ('PNLC', e_ts, e_pnlc),
       ('RARL', grid(0, 20, e_rarl), e_rarl), ('Robust MPC', grid(0, 20, e_mpc), e_mpc)],
      'lower right', 2.5, 0.01)
panel((312, 255, 518, 412), 'Acceleration of Gravity', ylab_p,
      [('ARNLC', f_ts, f_arnlc), ('NLC', f_ts, f_nlc), ('PNLC', f_ts, f_pnlc),
       ('RARL', grid(0, 20, f_rarl), f_rarl), ('Robust MPC', grid(0, 20, f_mpc), f_mpc)],
      'lower right', 2.5, 0.01)
panel((573, 255, 777, 412), 'Length of Pole', ylab_p,
      [('ARNLC', g_ts, g_arnlc), ('NLC', g_ts, g_nlc), ('PNLC', g_ts, g_pnlc),
       ('RARL', grid(0, 20, g_rarl), g_rarl), ('Robust MPC', grid(0, 20, g_mpc), g_mpc)],
      'lower right', 2.5, 0.02)
panel((839, 255, 1043, 413), 'External Force', ylab_p,
      [('ARNLC', grid(0, 20, h_arnlc), h_arnlc), ('NLC', grid(0, 20, h_nlc), h_nlc),
       ('PNLC', grid(0, 20, h_pnlc), h_pnlc), ('RARL', grid(0, 20, h_rarl), h_rarl),
       ('Robust MPC', grid(0, 20, h_mpc), h_mpc)], 'lower right', 2.5, 0.005, xlabel_size=4.5)

panel((48, 499, 254, 652), 'Radius of Path', 'distance error (m)',
      [('ARNLC', i_ts, i_arnlc), ('NLC', i_ts, i_nlc), ('PNLC', i_ts, i_pnlc),
       ('RARL', i_ts, i_rarl), ('Robust MPC', grid(0, 5, i_mpc), i_mpc)],
      'lower right', 1, 0.1)
panel((309, 499, 515, 652), 'Radius of Path', 'angle error (rad)',
      [('ARNLC', j_ts, j_arnlc), ('NLC', j_ts, j_nlc), ('PNLC', j_ts, j_pnlc),
       ('RARL', grid(0, 5, j_rarl), j_rarl), ('Robust MPC', grid(0, 5, j_mpc), j_mpc)],
      'lower right', 1, 0.2)
panel((569, 500, 775, 652), 'External Force', 'distance error (m)',
      [('ARNLC', k_ts, k_arnlc), ('NLC', k_ts, k_nlc), ('PNLC', k_ts, k_pnlc),
       ('RARL', k_ts, k_rarl), ('Robust MPC', grid(0, 5, k_mpc), k_mpc)],
      'lower right', 1, 0.1)
panel((831, 499, 1035, 652), 'External Force', 'angle error (rad)',
      [('ARNLC', grid(0, 5, l_arnlc), l_arnlc), ('NLC', grid(0, 5, l_nlc), l_nlc),
       ('PNLC', grid(0, 5, l_pnlc), l_pnlc), ('RARL', grid(0, 5, l_rarl), l_rarl),
       ('Robust MPC', grid(0, 5, l_mpc), l_mpc)], 'upper right', 1, 0.1)

title_m = 'Position of the Center of Mass of Pendulum-1'
panel((47, 743, 251, 894), title_m, 'pendulum-1 angular position (rad)',
      [('ARNLC', mp_ts, m_arnlc), ('NLC', mp_ts, m_nlc), ('PNLC', mp_ts, m_pnlc)],
      'upper right', 10, 0.1)
panel((307, 743, 511, 894), title_m, 'pendulum-2 angular position (rad)',
      [('ARNLC', mp_ts, n_arnlc), ('NLC', mp_ts, n_nlc), ('PNLC', mp_ts, n_pnlc)],
      'upper right', 10, 0.2)
panel((569, 743, 773, 894), 'External Force', 'pendulum-1 angular position (rad)',
      [('ARNLC', mp_ts, o_arnlc), ('NLC', mp_ts, o_nlc), ('PNLC', mp_ts, o_pnlc)],
      'lower right', 10, 0.1)
panel((829, 743, 1034, 894), 'External Force', 'pendulum-2 angular position (rad)',
      [('ARNLC', mp_ts, p_arnlc), ('NLC', mp_ts, p_nlc), ('PNLC', mp_ts, p_pnlc)],
      'lower right', 10, 0.1)

cx = [131, 392, 654, 912]
cy = [222, 470, 707, 950]
for k, cap in enumerate(captions):
    fig.text(cx[k % 4] / W, 1 - cy[k // 4] / H, cap, ha='center', va='center',
             fontsize=17.5, family='Liberation Serif')

fig.savefig('out.png', dpi=100, facecolor='white')
